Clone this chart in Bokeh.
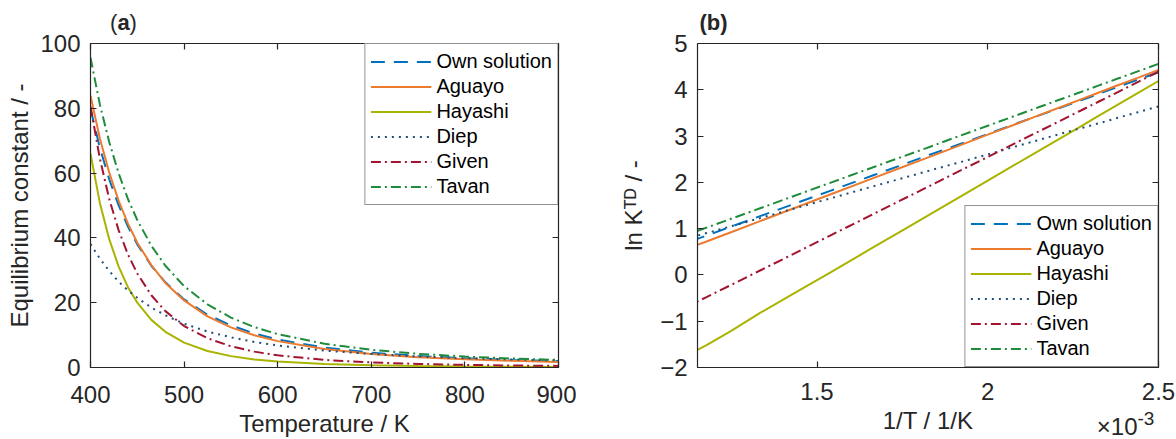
import math
from bokeh.plotting import figure
from bokeh.models import Range1d, FixedTicker, LinearAxis, Legend, LegendItem, Label
from bokeh.layouts import row
from bokeh.embed import file_html
from bokeh.resources import INLINE

# ---- data ----
temperature = [400, 410, 420, 430, 440, 450, 465, 480, 500, 525, 550, 575, 600, 650, 700, 750, 800, 850, 900]
k_own = [79.8, 67.8, 58.1, 50.1, 43.5, 38.0, 31.4, 26.3, 21.0, 16.3, 13.0, 10.5, 8.65, 6.15, 4.59, 3.56, 2.85, 2.34, 1.97]
k_aguayo = [83.9, 70.7, 60.2, 51.5, 44.4, 38.5, 31.6, 26.1, 20.7, 15.8, 12.4, 9.97, 8.14, 5.69, 4.18, 3.20, 2.53, 2.06, 1.72]
k_hayashi = [66.0, 50.8, 39.6, 31.2, 24.8, 20.0, 14.7, 11.0, 7.68, 5.09, 3.51, 2.50, 1.83, 1.05, 0.66, 0.44, 0.30, 0.22, 0.17]
k_diep = [38.1, 33.6, 29.8, 26.5, 23.8, 21.5, 18.5, 16.1, 13.5, 11.1, 9.31, 7.90, 6.81, 5.22, 4.16, 3.41, 2.87, 2.47, 2.16]
k_given = [80.6, 64.5, 52.0, 42.4, 34.9, 29.0, 22.3, 17.4, 12.8, 9.02, 6.55, 4.90, 3.75, 2.34, 1.56, 1.10, 0.81, 0.62, 0.49]
k_tavan = [95.6, 81.2, 69.6, 60.0, 52.0, 45.5, 37.6, 31.4, 25.1, 19.5, 15.4, 12.5, 10.3, 7.31, 5.45, 4.22, 3.38, 2.78, 2.33]

series_names = ["Own solution", "Aguayo", "Hayashi", "Diep", "Given", "Tavan"]
series_values = [k_own, k_aguayo, k_hayashi, k_diep, k_given, k_tavan]
series_colors = ["#0072BD", "#EC7A2F", "#A9B400", "#1F4E79", "#A2142F", "#1E8C3A"]
series_dash = ["14 9", "solid", "solid", "2 5", "10 4 2 4", "10 4 2 4"]

xticks_a = [400, 500, 600, 700, 800, 900]
yticks_a = [0, 20, 40, 60, 80, 100]
xticks_b = [1.5, 2, 2.5]
yticks_b = [-2, -1, 0, 1, 2, 3, 4, 5]

FONT = "Liberation Sans"
TXT = "#262626"
TICK_SIZE = "24px"
LABEL_SIZE = "24px"


def style_axes(p, xticks, yticks, x_overrides=None):
    main_x = p.xaxis[0]
    main_y = p.yaxis[0]
    for ax in (main_x, main_y):
        ax.axis_line_color = TXT
        ax.axis_line_width = 1.2
        ax.major_tick_line_color = TXT
        ax.major_tick_line_width = 1.2
        ax.major_tick_in = 6
        ax.major_tick_out = 0
        ax.minor_tick_line_color = None
        ax.major_label_text_font = FONT
        ax.major_label_text_font_size = TICK_SIZE
        ax.major_label_text_color = TXT
        ax.axis_label_text_font = FONT
        ax.axis_label_text_font_size = LABEL_SIZE
        ax.axis_label_text_font_style = "normal"
        ax.axis_label_text_color = TXT
    main_x.ticker = FixedTicker(ticks=xticks)
    main_y.ticker = FixedTicker(ticks=yticks)
    if x_overrides:
        main_x.major_label_overrides = x_overrides
    top = LinearAxis(ticker=FixedTicker(ticks=xticks),
                     major_label_overrides={t: "" for t in xticks})
    right = LinearAxis(ticker=FixedTicker(ticks=yticks),
                       major_label_overrides={t: "" for t in yticks})
    for ax in (top, right):
        ax.axis_line_color = TXT
        ax.axis_line_width = 1.2
        ax.major_tick_line_color = TXT
        ax.major_tick_line_width = 1.2
        ax.major_tick_in = 6
        ax.major_tick_out = 0
        ax.minor_tick_line_color = None
        ax.major_label_text_font_size = "0px"
        ax.major_label_standoff = 0
    p.add_layout(top, "above")
    p.add_layout(right, "right")
    p.xgrid.grid_line_color = None
    p.ygrid.grid_line_color = None
    p.outline_line_color = TXT
    return main_x, main_y


def add_text(p, side, x, y, text, size, angle=0.0, align="center", style="normal"):
    # canvas units (pixels from the figure's top-left); a side-panel label is not clipped to the frame
    p.add_layout(Label(x=x, y=y, x_units="canvas", y_units="canvas", text=text,
                       text_font=FONT, text_font_size=size, text_color=TXT,
                       angle=angle, text_align=align, text_baseline="middle",
                       text_font_style=style), side)


def make_legend(p, renderers, location):
    items = [LegendItem(label=n, renderers=[r]) for n, r in zip(series_names, renderers)]
    lg = Legend(items=items, location=location, margin=0, padding=5, spacing=0,
                glyph_width=61, glyph_height=25, label_height=25, label_standoff=5,
                label_text_font=FONT, label_text_font_size="20px", label_text_color="#000000",
                border_line_color=TXT, border_line_width=1, background_fill_alpha=1.0)
    p.add_layout(lg)


# ---- panel (a) ----
pa = figure(width=576, height=439, output_backend="svg", toolbar_location=None,
            x_range=Range1d(400, 900), y_range=Range1d(0, 100),
            min_border_left=90, min_border_right=18, min_border_top=43, min_border_bottom=70)
ax_a, ay_a = style_axes(pa, xticks_a, yticks_a)
ax_a.major_label_standoff = 18
ay_a.major_label_standoff = 10
ax_a.axis_label = "Temperature / K"
ax_a.axis_label_standoff = 4
ay_a.axis_label = "Equilibrium constant / -"
ay_a.axis_label_standoff = 4
rend_a = []
for vals, col, dash in zip(series_values, series_colors, series_dash):
    rend_a.append(pa.line(temperature, vals, line_color=col, line_width=2, line_dash=dash))
make_legend(pa, rend_a, "top_right")
# title (a): bold letter, normal parentheses
add_text(pa, "above", 116.9, 22, "a", "22px", align="left", style="bold")
add_text(pa, "right", 109.6, 22, "(", "22px", align="left")
add_text(pa, "right", 129.1, 22, ")", "22px", align="left")

# ---- panel (b) ----
inv_t = [1000.0 / t for t in temperature]
pb = figure(width=600, height=439, output_backend="svg", toolbar_location=None,
            x_range=Range1d(1.15, 2.5), y_range=Range1d(-2, 5),
            min_border_left=111, min_border_right=18, min_border_top=43, min_border_bottom=70)
ax_b, ay_b = style_axes(pb, xticks_b, yticks_b, x_overrides={1.5: "1.5", 2: "2", 2.5: "2.5"})
ax_b.major_label_standoff = 15
ay_b.major_label_standoff = 10
ax_b.axis_label = "1/T / 1/K"
ax_b.axis_label_standoff = 4
ay_b.axis_label = "ln K\u1d40\u1d30 / -"
ay_b.axis_label_standoff = 10
rend_b = []
for vals, col, dash in zip(series_values, series_colors, series_dash):
    lnk = [math.log(v) for v in vals]
    rend_b.append(pb.line(inv_t, lnk, line_color=col, line_width=2, line_dash=dash))
make_legend(pb, rend_b, "bottom_right")
# exponent of the x axis (fig b canvas starts at page x 576)
add_text(pb, "left", 561, 426, "\u00d710", LABEL_SIZE, align="right")
add_text(pb, "right", 561, 418, "-3", "19px", align="left")
# title (b)
add_text(pb, "above", 137, 22, "(b)", "22px", align="center", style="bold")

layout = row(pa, pb)
open("out.html", "w").write(file_html(layout, INLINE))
